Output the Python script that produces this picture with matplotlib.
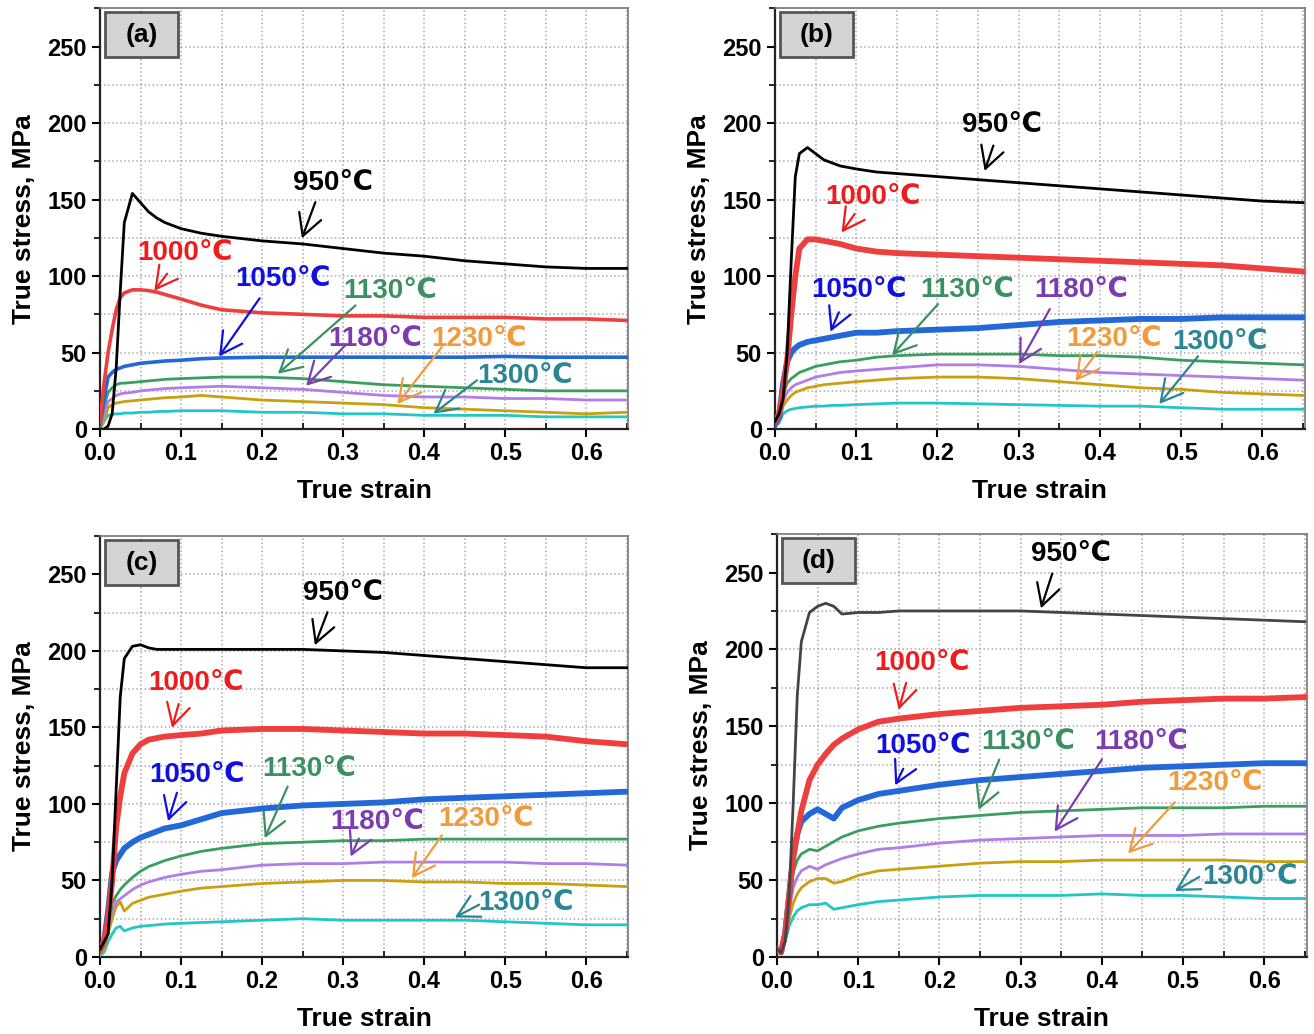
import matplotlib
matplotlib.use("Agg")
import matplotlib.pyplot as plt
from matplotlib.patches import Rectangle
from matplotlib.ticker import MultipleLocator

plt.rcParams['font.family'] = ['Liberation Sans', 'DejaVu Sans']
plt.rcParams['font.weight'] = 'bold'

# true strain grid shared by all curves
strain = [0, 0.005, 0.01, 0.015, 0.02, 0.025, 0.03, 0.04, 0.05, 0.06, 0.07, 0.08,
          0.1, 0.125, 0.15, 0.2, 0.25, 0.3, 0.35, 0.4, 0.45, 0.5, 0.55, 0.6, 0.65]

temps = ['950℃', '1000℃', '1050℃', '1130℃', '1180℃', '1230℃', '1300℃']

# (a)
a_950 = [0, 0, 2, 10, 40, 90, 135, 154, 148, 142, 138, 135, 131, 128, 126, 123, 121, 118, 115, 113, 110, 108, 106, 105, 105]
a_1000 = [5, 30, 50, 65, 78, 86, 89, 91, 91, 90.5, 89.5, 88, 85, 81, 78, 76, 75, 74, 74, 73, 73, 73, 72, 72, 71]
a_1050 = [3, 20, 34, 37, 39, 40, 41, 42, 43, 43.5, 44, 44.5, 45, 46, 46.5, 47, 47, 47, 47, 47, 47, 47.5, 47, 47, 47]
a_1130 = [2, 15, 24, 27, 29, 30, 30, 30.5, 31, 31.5, 32, 32.5, 33, 33.5, 34, 34, 33, 31, 29, 28, 27, 26, 25, 25, 25]
a_1180 = [1, 10, 18, 20, 22, 23, 23.5, 24, 25, 25.5, 26, 26.5, 27, 27.5, 28, 27, 26, 24, 22, 21, 21, 20, 20, 19, 19]
a_1230 = [0, 5, 14, 16, 17, 17.5, 18, 18.5, 19, 19.5, 20, 20.5, 21, 22, 21, 19, 18, 17, 16, 14, 13, 12, 11, 10, 11]
a_1300 = [1, 5, 9, 9.5, 10, 10, 10.5, 10.5, 11, 11, 11.5, 11.5, 12, 12, 12, 11, 11, 10, 10, 9, 9, 9, 8, 8, 8]

# (b)
b_950 = [5, 10, 20, 50, 110, 165, 180, 184, 180, 176, 174, 172, 170, 168, 167, 165, 163, 161, 159, 157, 155, 153, 151, 149, 148]
b_1000 = [5, 10, 25, 45, 75, 100, 118, 124, 124, 123, 122, 121, 118, 116, 115, 114, 113, 112, 111, 110, 109, 108, 107, 105, 103]
b_1050 = [3, 8, 30, 44, 50, 53, 55, 57, 58, 59, 60, 61, 63, 63, 64, 65, 66, 68, 70, 71, 72, 72, 73, 73, 73]
b_1130 = [2, 6, 22, 30, 33, 35, 37, 39, 41, 42, 43, 44, 45, 47, 48, 49, 49, 49, 48, 48, 47, 45, 44, 43, 42]
b_1180 = [2, 5, 18, 24, 27, 29, 30, 32, 34, 35, 36, 37, 38, 39, 40, 42, 42, 41, 39, 37, 36, 35, 34, 33, 32]
b_1230 = [2, 5, 15, 19, 22, 24, 25, 27, 28, 29, 29.5, 30, 31, 32, 33, 34, 34, 33, 31, 29, 27, 26, 24, 23, 22]
b_1300 = [2, 4, 10, 12, 13, 13.5, 14, 14.5, 15, 15, 15.5, 15.5, 16, 16.5, 17, 17, 16.5, 16, 15.5, 15, 15, 14, 13, 13, 13]

# (c)
c_950 = [5, 10, 15, 50, 110, 170, 195, 203, 204, 202, 201, 201, 201, 201, 201, 201, 201, 200, 199, 197, 195, 193, 191, 189, 189]
c_1000 = [5, 10, 25, 50, 85, 105, 120, 133, 139, 142, 143, 144, 145, 146, 148, 149, 149, 148, 147, 146, 146, 145, 144, 141, 139]
c_1050 = [5, 10, 30, 55, 63, 67, 71, 75, 78, 80, 82, 84, 86, 90, 94, 97, 99, 100, 101, 103, 104, 105, 106, 107, 108]
c_1130 = [3, 8, 22, 35, 40, 44, 47, 52, 56, 59, 61, 63, 66, 69, 71, 74, 75, 76, 76, 77, 77, 77, 77, 77, 77]
c_1180 = [3, 7, 18, 30, 36, 38, 40, 44, 47, 49, 50.5, 52, 54, 56, 57, 60, 61, 61, 62, 62, 62, 62, 61, 61, 60]
c_1230 = [2, 5, 15, 25, 33, 36, 30, 35, 37, 39, 40, 41, 43, 45, 46, 48, 49, 50, 50, 49, 49, 48, 48, 47, 46]
c_1300 = [1, 3, 10, 15, 19, 20, 17, 19, 20, 20.5, 21, 21.5, 22, 22.5, 23, 24, 25, 24, 24, 24, 24, 23, 22, 21, 21]

# (d)
d_950 = [5, 3, 10, 40, 100, 170, 205, 224, 228, 230, 228, 223, 224, 224, 225, 225, 225, 225, 224, 223, 222, 221, 220, 219, 218]
d_1000 = [5, 3, 15, 40, 65, 80, 95, 115, 125, 132, 138, 142, 148, 153, 155, 158, 160, 162, 163, 164, 166, 167, 168, 168, 169]
d_1050 = [5, 3, 15, 40, 65, 80, 88, 93, 96, 93, 90, 97, 102, 106, 108, 112, 115, 117, 119, 121, 123, 124, 125, 126, 126]
d_1130 = [5, 3, 15, 35, 55, 63, 67, 70, 69, 72, 75, 78, 82, 85, 87, 90, 92, 94, 95, 96, 97, 97, 97, 98, 98]
d_1180 = [5, 3, 15, 30, 45, 52, 56, 59, 57, 60, 62, 64, 67, 70, 71, 74, 76, 77, 78, 79, 79, 79, 80, 80, 80]
d_1230 = [5, 3, 12, 25, 35, 41, 45, 49, 51, 51, 48, 49, 53, 56, 57, 59, 61, 62, 62, 63, 63, 63, 63, 62, 62]
d_1300 = [5, 2, 10, 20, 26, 30, 32, 34, 34, 35, 31, 32, 34, 36, 37, 39, 40, 40, 40, 41, 40, 40, 39, 38, 38]

line_colors = ['#000000', '#ee3e3e', '#2268d8', '#3a9e5e', '#b07ee6', '#c8a010', '#22c6c6']
text_colors = ['#000000', '#ee1c1c', '#1010e0', '#3a9060', '#7a3cb0', '#f29a3a', '#2a8595']

panels = [
    ('(a)', [a_950, a_1000, a_1050, a_1130, a_1180, a_1230, a_1300]),
    ('(b)', [b_950, b_1000, b_1050, b_1130, b_1180, b_1230, b_1300]),
    ('(c)', [c_950, c_1000, c_1050, c_1130, c_1180, c_1230, c_1300]),
    ('(d)', [d_950, d_1000, d_1050, d_1130, d_1180, d_1230, d_1300]),
]

# label text position, arrow start, arrow tip  (data coords)
notes = {
    '(a)': [((0.287, 161), (0.267, 150), (0.248, 123)),
            ((0.105, 115), (0.085, 103), (0.065, 89)),
            ((0.226, 98), (0.199, 87), (0.145, 46)),
            ((0.358, 90), (0.318, 82), (0.217, 35)),
            ((0.340, 59), (0.305, 56), (0.252, 27)),
            ((0.468, 59), (0.424, 55), (0.365, 15)),
            ((0.525, 35), (0.468, 33), (0.409, 9))],
    '(b)': [((0.280, 199), (0.270, 187), (0.257, 167)),
            ((0.121, 152), (0.100, 142), (0.080, 127)),
            ((0.103, 91), (0.080, 78), (0.067, 62)),
            ((0.237, 91), (0.203, 83), (0.142, 47)),
            ((0.377, 91), (0.340, 80), (0.299, 41)),
            ((0.418, 59), (0.399, 52), (0.368, 30)),
            ((0.548, 57), (0.523, 49), (0.471, 15))],
    '(c)': [((0.300, 238), (0.282, 227), (0.264, 202)),
            ((0.118, 179), (0.098, 167), (0.088, 148)),
            ((0.120, 119), (0.096, 109), (0.083, 87)),
            ((0.258, 123), (0.233, 113), (0.202, 76)),
            ((0.342, 88), (0.321, 79), (0.308, 64)),
            ((0.477, 90), (0.424, 81), (0.383, 50)),
            ((0.526, 35), (0.471, 35), (0.435, 25))],
    '(d)': [((0.362, 262), (0.340, 251), (0.324, 225)),
            ((0.178, 191), (0.160, 180), (0.149, 159)),
            ((0.180, 137), (0.157, 124), (0.144, 110)),
            ((0.309, 140), (0.275, 130), (0.247, 94)),
            ((0.448, 140), (0.402, 130), (0.340, 80)),
            ((0.539, 113), (0.492, 102), (0.430, 66)),
            ((0.582, 52), (0.523, 53), (0.487, 42))],
}

fig = plt.figure(figsize=(13.14, 10.34), dpi=100)
rects = [[0.0761, 0.585, 0.402, 0.407],
         [0.5898, 0.585, 0.403, 0.407],
         [0.0761, 0.0745, 0.402, 0.407],
         [0.5913, 0.0745, 0.403, 0.409]]

for k, (name, curves) in enumerate(panels):
    ax = fig.add_axes(rects[k])
    for i, s in enumerate(curves):
        col = line_colors[i]
        if name == '(d)' and i == 0:
            col = '#444444'
        lw = 2.0
        if i in (1, 2):
            lw = 2.6 if name == '(a)' else 4.2
        ax.plot(strain, s, color=col, lw=lw, zorder=3 + (7 - i) * 0.1)
    for i, (txt, start, tip) in enumerate(notes[name]):
        ax.text(txt[0], txt[1], temps[i], color=text_colors[i], fontsize=20,
                fontweight='bold', ha='center', va='center', zorder=5)
        ax.annotate('', xy=tip, xytext=start,
                    arrowprops=dict(arrowstyle='->,head_length=0.55,head_width=0.3',
                                    color=text_colors[i], lw=1.6,
                                    mutation_scale=28), zorder=5)
    ax.set_xlim(0, 0.652)
    ax.set_ylim(0, 275)
    ax.xaxis.set_major_locator(MultipleLocator(0.1))
    ax.xaxis.set_minor_locator(MultipleLocator(0.05))
    ax.yaxis.set_major_locator(MultipleLocator(50))
    ax.yaxis.set_minor_locator(MultipleLocator(25))
    ax.grid(which='both', color='#a8a8a8', ls=':', lw=1.1)
    ax.tick_params(which='major', direction='out', length=6, width=1.5, labelsize=17)
    ax.tick_params(axis='x', which='minor', direction='in', length=4, width=1.2)
    ax.tick_params(axis='y', which='minor', direction='out', length=4, width=1.2)
    ax.set_xticks([0, 0.1, 0.2, 0.3, 0.4, 0.5, 0.6])
    ax.set_xticklabels(['0.0', '0.1', '0.2', '0.3', '0.4', '0.5', '0.6'])
    for lab in ax.get_xticklabels() + ax.get_yticklabels():
        lab.set_fontweight('bold')
    ax.set_xlabel('True strain', fontsize=19, fontweight='bold', labelpad=10)
    ax.set_ylabel('True stress, MPa', fontsize=19, fontweight='bold', labelpad=8)
    for sp in ax.spines.values():
        sp.set_color('#777777')
        sp.set_linewidth(1.2)
    ax.spines['left'].set_color('#222222')
    ax.spines['bottom'].set_color('#222222')
    ax.spines['left'].set_linewidth(1.6)
    ax.spines['bottom'].set_linewidth(1.6)
    ax.add_patch(Rectangle((0.01, 0.885), 0.138, 0.105, transform=ax.transAxes,
                           facecolor='#d4d4d4', edgecolor='#555555', lw=2, zorder=6))
    ax.text(0.079, 0.937, name, transform=ax.transAxes, fontsize=19, fontweight='bold',
            ha='center', va='center', zorder=7)

fig.savefig('out.png', dpi=100)
